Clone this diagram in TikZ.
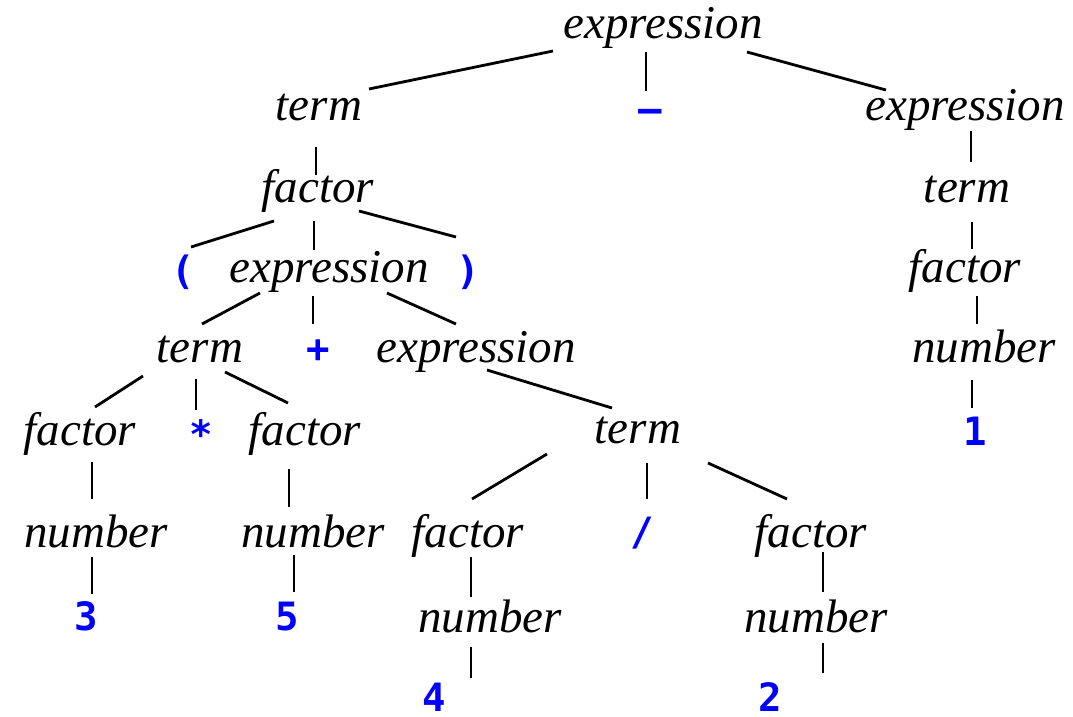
\documentclass[tikz,border=0pt]{standalone}
\usepackage{fontspec}
\setmainfont{Liberation Serif}
\newfontfamily\termfont{DejaVu Sans Mono}
\usetikzlibrary{calc}
\tikzset{
  nt/.style={inner sep=0pt, anchor=base, font=\fontsize{47}{50}\selectfont\itshape},
  tm/.style={inner sep=0pt, anchor=base, text=blue, font=\fontsize{39}{42}\selectfont\termfont\bfseries},
  edgeline/.style={line width=2.8pt, black}
}
\newcommand\edg[6]{\draw[edgeline] ([shift={(#2,#3)}]#1.base) -- ([shift={(#5,#6)}]#4.base);}
\begin{document}
\begin{tikzpicture}[x=1pt,y=1pt]
\useasboundingbox (0,0) rectangle (1073,-717);
% row 1
\node[nt] (e1) at (663,-38) {expression};
% row 2
\node[nt] (t1) at (319,-120) {term};
\node[tm] (m1) at (650,-122) {–};
\node[nt] (e2) at (965,-120) {expression};
% row 3
\node[nt] (f1) at (318,-202) {factor};
\node[nt] (t2) at (967,-202) {term};
% row 4
\node[tm] (lp) at (183,-284) {(};
\node[nt] (e3) at (329,-282) {expression};
\node[tm] (rp) at (468,-284) {)};
\node[nt] (f2) at (965,-282) {factor};
% row 5
\node[nt] (t3) at (200,-362) {term};
\node[tm] (plus) at (318,-362) {+};
\node[nt] (e4) at (476,-362) {expression};
\node[nt] (n1) at (984,-362) {number};
% row 6
\node[nt] (f3) at (80,-445) {factor};
\node[tm] (star) at (201,-448) {*};
\node[nt] (f4) at (305,-445) {factor};
\node[nt] (t4) at (638,-443) {term};
\node[tm] (one) at (975,-445) {1};
% row 7
\node[nt] (n2) at (96,-547) {number};
\node[nt] (n3) at (313,-547) {number};
\node[nt] (f5) at (468,-547) {factor};
\node[tm] (slash) at (642,-545) {/};
\node[nt] (f6) at (811,-547) {factor};
% row 8
\node[tm] (three) at (86,-630) {3};
\node[tm] (five) at (287,-630) {5};
\node[nt] (n4) at (490,-632) {number};
\node[nt] (n5) at (816,-632) {number};
% row 9
\node[tm] (four) at (434,-711) {4};
\node[tm] (two) at (770,-711) {2};
% edges
\edg{e1}{-110}{-13}{t1}{50}{31}
\edg{e1}{-17}{-14}{m1}{-4}{31}
\edg{e1}{84}{-14}{e2}{-79}{30}
\edg{t1}{-3}{-27}{f1}{-2}{27}
\edg{f1}{-44}{-19}{lp}{8}{37}
\edg{f1}{-4}{-19}{e3}{-15}{32}
\edg{f1}{41}{-9}{rp}{-12}{47}
\edg{e3}{-69}{-11}{t3}{2}{38}
\edg{e3}{-16}{-14}{plus}{-5}{38}
\edg{e3}{58}{-11}{e4}{-20}{38}
\edg{t3}{-57}{-14}{f3}{15}{38}
\edg{t3}{-4}{-17}{star}{-5}{38}
\edg{t3}{25}{-10}{f4}{-17}{42}
\edg{e4}{11}{-8}{t4}{-26}{35}
\edg{t4}{-91}{-11}{f5}{4}{48}
\edg{t4}{9}{-20}{slash}{5}{46}
\edg{t4}{70}{-20}{f6}{-24}{48}
\edg{f3}{12}{-17}{n2}{-4}{48}
\edg{n2}{-4}{-10}{three}{6}{36}
\edg{f4}{-16}{-24}{n3}{-24}{40}
\edg{n3}{-19}{-8}{five}{7}{38}
\edg{f5}{3}{-10}{n4}{-19}{35}
\edg{n4}{-19}{-15}{four}{37}{33}
\edg{f6}{12}{-5}{n5}{7}{40}
\edg{n5}{7}{-11}{two}{53}{38}
\edg{e2}{6}{-11}{t2}{4}{40}
\edg{t2}{5}{-20}{f2}{7}{33}
\edg{f2}{12}{-14}{n1}{-7}{38}
\edg{n1}{-12}{-18}{one}{-3}{37}
\end{tikzpicture}
\end{document}
